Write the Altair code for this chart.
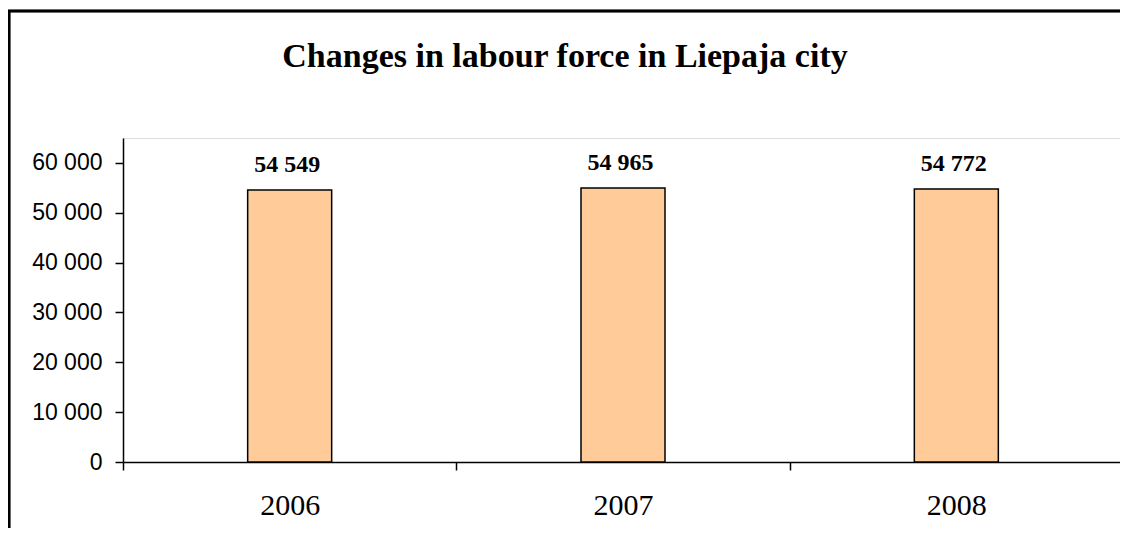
import altair as alt
import pandas as pd

years = ["2006", "2007", "2008"]
values = [54549, 54965, 54772]
labels = [f"{v:,}".replace(",", " ") for v in values]
y_ticks = [0, 10000, 20000, 30000, 40000, 50000, 60000]

df = pd.DataFrame({"year": years, "value": values, "label": labels})

x_enc = alt.X(
    "year:N",
    title=None,
    scale=alt.Scale(paddingInner=0, paddingOuter=0, range=[0, 1000]),
    axis=alt.Axis(
        labelAngle=0,
        tickBand="extent",
        tickSize=8,
        tickColor="black",
        tickWidth=1.5,
        domainColor="black",
        domainWidth=1.5,
        labelFont="Liberation Serif",
        labelFontSize=30,
        labelColor="black",
        labelPadding=20,
        grid=False,
    ),
)
y_enc = alt.Y(
    "value:Q",
    title=None,
    scale=alt.Scale(domain=[0, 65000], nice=False),
    axis=alt.Axis(
        values=y_ticks,
        labelExpr="replace(format(datum.value, ','), ',', ' ')",
        tickSize=8,
        tickColor="black",
        tickWidth=1.5,
        domainColor="black",
        domainWidth=1.5,
        labelFont="Liberation Sans",
        labelFontSize=23,
        labelColor="black",
        labelPadding=13,
        grid=False,
    ),
)

bars = alt.Chart(df).mark_bar(
    width={"band": 0.252}, color="#FFCC99", stroke="black", strokeWidth=1.5
).encode(x=x_enc, y=y_enc)

text = alt.Chart(df).mark_text(
    font="Liberation Serif", fontSize=24, fontWeight="bold", color="black",
    baseline="alphabetic", dy=-18, dx=-2.5
).encode(x="year:N", y="value:Q", text="label:N")

frame_left = alt.Chart(df).mark_rule(color="black", strokeWidth=2.5).encode(
    x=alt.value(-114), y=alt.value(-127), y2=alt.value(420)
)
frame_top = alt.Chart(df).mark_rule(color="black", strokeWidth=2.5).encode(
    x=alt.value(-115), x2=alt.value(1000), y=alt.value(-127)
)

chart = alt.layer(bars, text, frame_left, frame_top).properties(
    width=997,
    height=324,
    autosize=alt.AutoSizeParams(type="none"),
    padding={"left": 115, "top": 130, "right": 0, "bottom": 66},
    title=alt.Title(
        "Changes in labour force in Liepaja city",
        font="Liberation Serif",
        fontSize=34,
        fontWeight="bold",
        color="black",
        anchor="middle",
        dx=-56.5,
        offset=-91,
        baseline="alphabetic",
    ),
).configure_view(stroke="#808080", strokeWidth=1.5).configure(background="white")

chart.save("out.html", embed_options={"renderer": "svg", "actions": False})
